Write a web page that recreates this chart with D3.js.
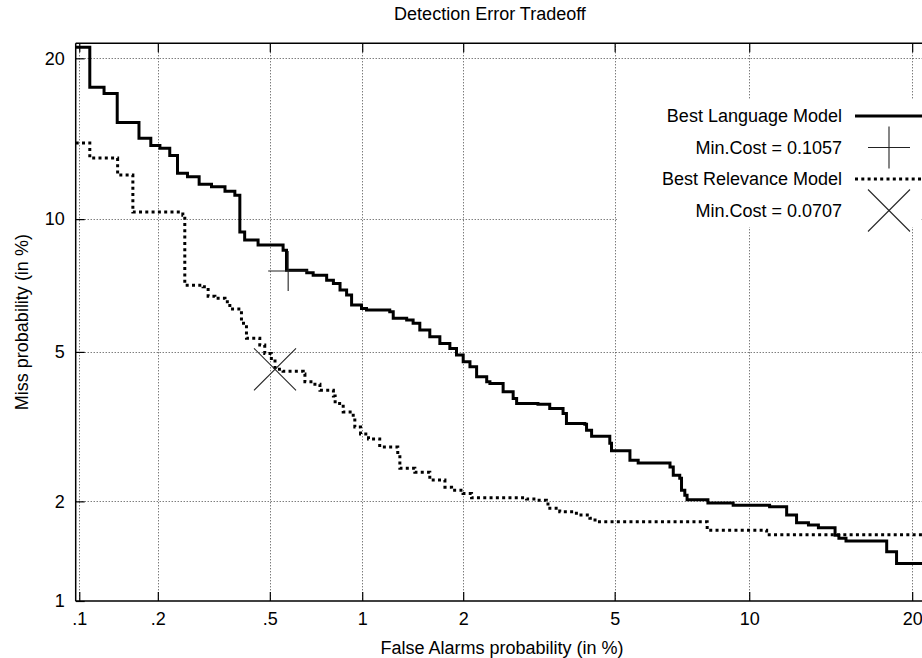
<!DOCTYPE html>
<html>
<head>
<meta charset="utf-8">
<script src="https://cdn.jsdelivr.net/npm/d3@7"></script>
<style>
  html, body { margin: 0; padding: 0; background: #fff; overflow: hidden; }
  svg { display: block; overflow: hidden; }
  text { font-family: "Liberation Sans", Arial, Helvetica, sans-serif; fill: #000; }
</style>
</head>
<body>
<svg id="chart" width="922" height="658"></svg>
<script>
// ---- data: DET curves, (false alarm %, miss %) ----
const langFA = [0.0968, 0.110, 0.125, 0.1405, 0.170, 0.1883, 0.2036, 0.2214, 0.2364, 0.257,
  0.2832, 0.3136, 0.350, 0.379, 0.3945, 0.410, 0.456, 0.5543, 0.569, 0.664,
  0.697, 0.771, 0.8105, 0.851, 0.893, 0.926, 0.995, 1.031, 1.216, 1.246,
  1.368, 1.430, 1.497, 1.602, 1.714, 1.832, 1.914, 2.00, 2.09, 2.182,
  2.328, 2.376, 2.583, 2.75, 2.81, 3.202, 3.437, 3.72, 3.795, 4.223,
  4.265, 4.39, 4.866, 4.913, 5.44, 5.69, 6.74, 6.856, 7.09, 7.155,
  7.277, 7.362, 8.18, 9.26, 11.0, 11.89, 12.43, 13.1, 13.68, 14.69,
  14.93, 15.38, 18.13, 18.84, 21.5];
const langMiss = [20.85, 17.86, 17.42, 15.45, 14.45, 14.0, 13.84, 13.4, 12.38, 12.19,
  11.78, 11.65, 11.41, 11.2, 9.39, 9.03, 8.81, 8.59, 7.76, 7.66,
  7.56, 7.37, 7.25, 7.00, 6.82, 6.47, 6.35, 6.295, 6.24, 6.02,
  5.965, 5.86, 5.65, 5.445, 5.245, 5.10, 4.91, 4.725, 4.595, 4.336,
  4.21, 4.17, 3.97, 3.815, 3.703, 3.688, 3.597, 3.487, 3.281, 3.267,
  3.15, 3.037, 2.904, 2.772, 2.613, 2.568, 2.503, 2.374, 2.325, 2.153,
  2.084, 2.02, 1.98, 1.95, 1.93, 1.826, 1.733, 1.706, 1.675, 1.593,
  1.56, 1.531, 1.42, 1.309, 1.309];

const relFA = [0.0968, 0.110, 0.141, 0.1612, 0.2472, 0.2513, 0.2925, 0.305, 0.3224, 0.350,
  0.364, 0.3996, 0.4159, 0.4159, 0.4622, 0.4806, 0.5061, 0.5206, 0.5541, 0.6467,
  0.655, 0.7063, 0.7334, 0.8105, 0.821, 0.871, 0.937, 0.948, 0.988, 1.046,
  1.133, 1.286, 1.305, 1.447, 1.602, 1.773, 1.853, 1.998, 2.112, 2.987,
  3.172, 3.369, 3.401, 3.648, 4.022, 4.347, 4.477, 8.15, 10.85, 21.5];
const relMiss = [14.15, 13.25, 12.28, 10.34, 10.19, 7.185, 7.12, 6.78, 6.705, 6.585,
  6.33, 5.86, 5.65, 5.397, 5.195, 4.956, 4.818, 4.529, 4.477, 4.406,
  4.21, 4.153, 4.007, 3.874, 3.703, 3.521, 3.415, 3.214, 3.076, 2.985,
  2.838, 2.697, 2.482, 2.42, 2.299, 2.196, 2.153, 2.107, 2.047, 2.03,
  2.016, 1.994, 1.909, 1.866, 1.826, 1.786, 1.745, 1.648, 1.598, 1.598];

// minimum-cost operating points
const langMinCost = [0.5764, 7.73];
const relMinCost = [0.5206, 4.529];

const seriesNames = ["Best Language Model", "Best Relevance Model"];
const minCostLabels = ["Min.Cost = 0.1057", "Min.Cost = 0.0707"];

const xTicks = [0.1, 0.2, 0.5, 1, 2, 5, 10, 20];
const xTickLabels = [".1", ".2", ".5", "1", "2", "5", "10", "20"];
const yTicks = [1, 2, 5, 10, 20];
const yTickLabels = ["1", "2", "5", "10", "20"];

const xDomain = [0.0968, 21.5];
const yDomain = [1, 21.17];

// ---- normal deviate (inverse standard normal CDF, Acklam) ----
function probit(p) {
  const a = [-3.969683028665376e+01, 2.209460984245205e+02, -2.759285104469687e+02,
             1.383577518672690e+02, -3.066479806614716e+01, 2.506628277459239e+00];
  const b = [-5.447609879822406e+01, 1.615858368580409e+02, -1.556989798598866e+02,
             6.680131188771972e+01, -1.328068155288572e+01];
  const c = [-7.784894002430293e-03, -3.223964580411365e-01, -2.400758277161838e+00,
             -2.549732539343734e+00, 4.374664141464968e+00, 2.938163982698783e+00];
  const d = [7.784695709041462e-03, 3.224671290700398e-01, 2.445134137142996e+00,
             3.754408661907416e+00];
  const pl = 0.02425, ph = 1 - pl;
  let q, r;
  if (p < pl) {
    q = Math.sqrt(-2 * Math.log(p));
    return (((((c[0]*q + c[1])*q + c[2])*q + c[3])*q + c[4])*q + c[5]) /
           ((((d[0]*q + d[1])*q + d[2])*q + d[3])*q + 1);
  } else if (p <= ph) {
    q = p - 0.5; r = q * q;
    return (((((a[0]*r + a[1])*r + a[2])*r + a[3])*r + a[4])*r + a[5]) * q /
           (((((b[0]*r + b[1])*r + b[2])*r + b[3])*r + b[4])*r + 1);
  } else {
    q = Math.sqrt(-2 * Math.log(1 - p));
    return -(((((c[0]*q + c[1])*q + c[2])*q + c[3])*q + c[4])*q + c[5]) /
            ((((d[0]*q + d[1])*q + d[2])*q + d[3])*q + 1);
  }
}

// scale on a normal-deviate axis, values given in percent
function probitScale(domainPct, range) {
  const lin = d3.scaleLinear().domain(domainPct.map(v => probit(v / 100))).range(range);
  function s(v) { return lin(probit(v / 100)); }
  s.domain = () => domainPct.slice();
  s.range = () => lin.range();
  s.copy = () => probitScale(domainPct, lin.range());
  return s;
}

// ---- layout ----
const plot = { left: 75.7, top: 43.3, bottom: 601, right: 931.6 };
const x = probitScale(xDomain, [plot.left, plot.right]);
const y = probitScale(yDomain, [plot.bottom, plot.top]);

const svg = d3.select("#chart");
const FONT = 18;

svg.append("defs").append("clipPath").attr("id", "plotClip")
  .append("rect")
  .attr("x", plot.left).attr("y", plot.top)
  .attr("width", plot.right - plot.left).attr("height", plot.bottom - plot.top);

// grid
const grid = svg.append("g").attr("stroke", "#444").attr("stroke-width", 1)
  .attr("stroke-dasharray", "1,2").attr("fill", "none");
xTicks.forEach(t => {
  grid.append("line").attr("x1", Math.round(x(t)) + 0.5).attr("x2", Math.round(x(t)) + 0.5)
    .attr("y1", plot.top).attr("y2", plot.bottom);
});
yTicks.filter(t => t > yDomain[0]).forEach(t => {
  grid.append("line").attr("y1", Math.round(y(t)) + 0.5).attr("y2", Math.round(y(t)) + 0.5)
    .attr("x1", plot.left).attr("x2", plot.right);
});

// axes
const xAxis = d3.axisBottom(x).tickValues(xTicks)
  .tickFormat((d, i) => xTickLabels[i]).tickSizeInner(-9).tickSizeOuter(0).tickPadding(11);
const xAxisTop = d3.axisTop(x).tickValues(xTicks)
  .tickFormat("").tickSizeInner(-9).tickSizeOuter(0);
const yAxis = d3.axisLeft(y).tickValues(yTicks)
  .tickFormat((d, i) => yTickLabels[i]).tickSizeInner(-9).tickSizeOuter(0).tickPadding(11);

function styleAxis(g) {
  g.select(".domain").remove();
  g.selectAll(".tick line").attr("stroke", "#000").attr("stroke-width", 1.2);
  g.selectAll(".tick text").attr("font-size", FONT)
    .attr("font-family", '"Liberation Sans", Arial, sans-serif').attr("fill", "#000");
}
svg.append("g").attr("transform", `translate(0,${plot.bottom})`).call(xAxis).call(styleAxis);
svg.append("g").attr("transform", `translate(0,${plot.top})`).call(xAxisTop).call(styleAxis);
svg.append("g").attr("transform", `translate(${plot.left},0)`).call(yAxis).call(styleAxis);

// frame: left, top and bottom edges (the right edge lies past the page)
const frame = svg.append("g").attr("stroke", "#000").attr("stroke-width", 1.5);
frame.append("line").attr("x1", plot.left).attr("x2", plot.left).attr("y1", plot.top).attr("y2", plot.bottom);
frame.append("line").attr("x1", plot.left).attr("x2", plot.right).attr("y1", plot.top).attr("y2", plot.top);
frame.append("line").attr("x1", plot.left).attr("x2", plot.right).attr("y1", plot.bottom).attr("y2", plot.bottom);

// curves
const line = d3.line().x(d => x(d[0])).y(d => y(d[1])).curve(d3.curveStepAfter);
const curves = svg.append("g").attr("clip-path", "url(#plotClip)");
curves.append("path")
  .datum(relFA.map((v, i) => [v, relMiss[i]]))
  .attr("d", line).attr("fill", "none").attr("stroke", "#000")
  .attr("stroke-width", 3).attr("stroke-dasharray", "3,3.3");
curves.append("path")
  .datum(langFA.map((v, i) => [v, langMiss[i]]))
  .attr("d", line).attr("fill", "none").attr("stroke", "#000")
  .attr("stroke-width", 3).attr("stroke-linejoin", "miter");

// min-cost markers
function plusMark(g, cx, cy, r) {
  g.append("line").attr("x1", cx - r).attr("x2", cx + r).attr("y1", cy).attr("y2", cy);
  g.append("line").attr("x1", cx).attr("x2", cx).attr("y1", cy - r).attr("y2", cy + r);
}
function crossMark(g, cx, cy, r) {
  g.append("line").attr("x1", cx - r).attr("x2", cx + r).attr("y1", cy - r).attr("y2", cy + r);
  g.append("line").attr("x1", cx - r).attr("x2", cx + r).attr("y1", cy + r).attr("y2", cy - r);
}
const marks = svg.append("g").attr("stroke", "#222").attr("stroke-width", 1.1);
plusMark(marks, x(langMinCost[0]), y(langMinCost[1]), 20);
crossMark(marks, x(relMinCost[0]), y(relMinCost[1]), 21);

// legend
const legend = svg.append("g");
legend.append("rect").attr("x", 617).attr("y", 100).attr("width", 303).attr("height", 127)
  .attr("fill", "#fff");
const rowY = [116, 147.5, 179, 210.5];
const textX = 842, sampleX0 = 855, sampleX1 = 923, markX = 889;
const rowText = [seriesNames[0], minCostLabels[0], seriesNames[1], minCostLabels[1]];
rowText.forEach((t, i) => {
  legend.append("text").attr("x", textX).attr("y", rowY[i]).attr("dy", "0.36em")
    .attr("text-anchor", "end").attr("font-size", FONT).text(t);
});
legend.append("line").attr("x1", sampleX0).attr("x2", sampleX1)
  .attr("y1", rowY[0]).attr("y2", rowY[0]).attr("stroke", "#000").attr("stroke-width", 3);
legend.append("line").attr("x1", sampleX0).attr("x2", sampleX1)
  .attr("y1", rowY[2]).attr("y2", rowY[2]).attr("stroke", "#000").attr("stroke-width", 3)
  .attr("stroke-dasharray", "3,3.3");
const lmarks = legend.append("g").attr("stroke", "#222").attr("stroke-width", 1.1);
plusMark(lmarks, markX, rowY[1], 21);
crossMark(lmarks, markX, rowY[3], 21);

// titles
svg.append("text").attr("x", 490).attr("y", 20).attr("text-anchor", "middle")
  .attr("font-size", FONT).text("Detection Error Tradeoff");
svg.append("text").attr("x", 502).attr("y", 654).attr("text-anchor", "middle")
  .attr("font-size", FONT).text("False Alarms probability (in %)");
svg.append("text").attr("transform", `translate(28,${(plot.top + plot.bottom) / 2}) rotate(-90)`)
  .attr("text-anchor", "middle").attr("font-size", FONT).text("Miss probability (in %)");
</script>
</body>
</html>
